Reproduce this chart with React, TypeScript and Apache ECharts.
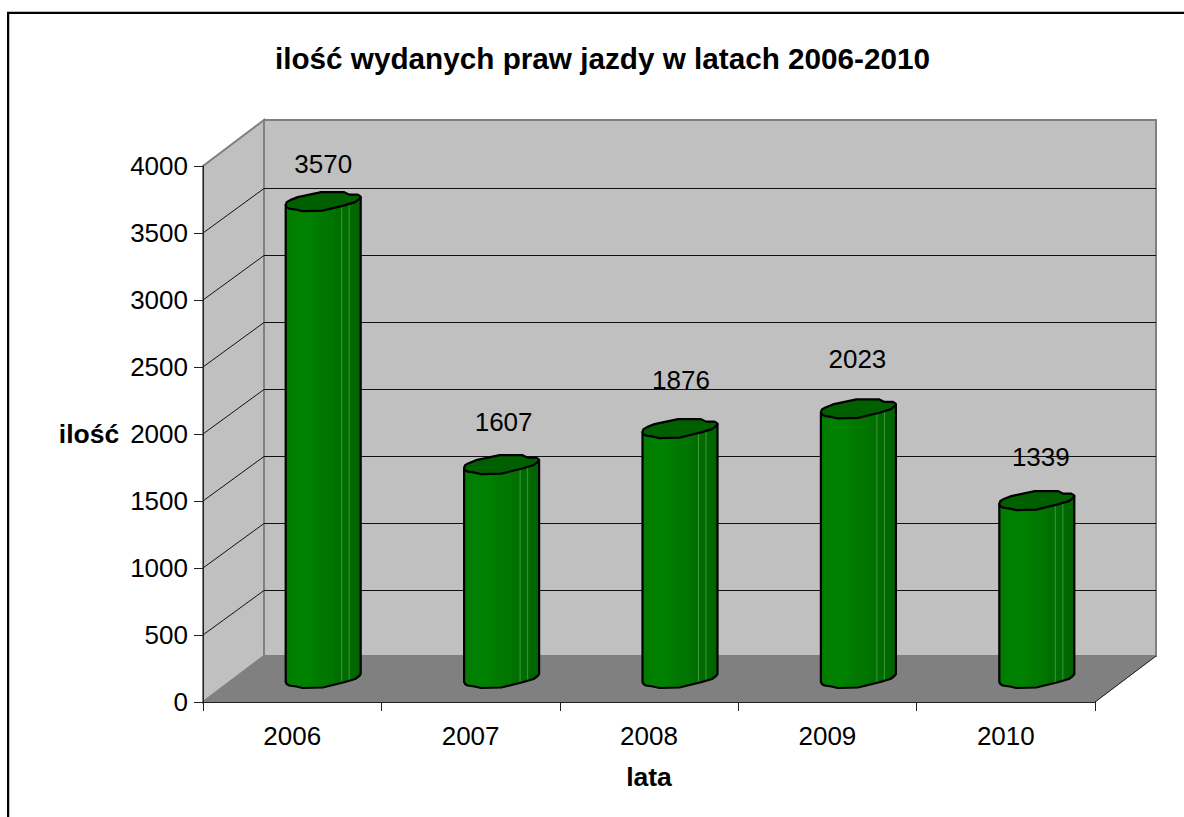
import React, { useEffect, useRef } from "react";
import * as echarts from "echarts";

const titleText = "ilość wydanych praw jazdy w latach 2006-2010";
const xAxisName = "lata";
const yAxisName = "ilość";
const years = ["2006", "2007", "2008", "2009", "2010"];
const counts = [3570, 1607, 1876, 2023, 1339];
const gridValues = [500, 1000, 1500, 2000, 2500, 3000, 3500];

const FONT = "Liberation Sans";
const DEPTH_X = 61;
const DEPTH_Y = 46;
const upperEdge = [[-36.5, 0.5], [-33, -1.5], [-25.5, -4.5], [-2, -9.5], [21, -9.5], [26, -7], [34.5, -7], [37, -5.5]];
const lowerEdge = [[36, -2.5], [32, 0.5], [21, 3.8], [-0.5, 9], [-20.5, 9.5], [-27, 8], [-34, 7], [-36.5, 5.5]];
const leftTip = [-37.5, 3.5];
const rightTip = [37.5, -4.5];
const labelShift = [[0, -37.5], [2, -42.5], [1, -48.5], [-1, -49.5], [4, -43.5]];

const shift = (pts: number[][], x: number, y: number) => pts.map((p) => [p[0] + x, p[1] + y]);

export default function App() {
  const ref = useRef<HTMLDivElement>(null);
  useEffect(() => {
    const chart = echarts.init(ref.current!, undefined, { renderer: "svg" });
    const bodyFill = new echarts.graphic.LinearGradient(0, 0, 1, 0, [
      { offset: 0, color: "#007a00" },
      { offset: 0.14, color: "#008000" },
      { offset: 0.36, color: "#008000" },
      { offset: 0.4, color: "#007a00" },
      { offset: 0.62, color: "#007500" },
      { offset: 0.66, color: "#007000" },
      { offset: 0.8, color: "#006c00" },
      { offset: 0.9, color: "#006800" },
      { offset: 1, color: "#006200" },
    ]);
    const wallsRender = (params: any) => {
      const c = params.coordSys;
      const l = c.x, r = c.x + c.width, t = c.y, b = c.y + c.height;
      const edge = { stroke: "#808080", lineWidth: 2, fill: "#c0c0c0" };
      return {
        type: "group",
        children: [
          { type: "polygon", shape: { points: [[l, b], [l + DEPTH_X, b - DEPTH_Y], [l + DEPTH_X, t - DEPTH_Y], [l, t]] }, style: edge },
          { type: "polygon", shape: { points: [[l + DEPTH_X, b - DEPTH_Y], [r + DEPTH_X, b - DEPTH_Y], [r + DEPTH_X, t - DEPTH_Y], [l + DEPTH_X, t - DEPTH_Y]] }, style: edge },
          { type: "polygon", shape: { points: [[l, b], [l + DEPTH_X, b - DEPTH_Y], [r + DEPTH_X, b - DEPTH_Y], [r, b]] }, style: { fill: "#808080", stroke: "#808080", lineWidth: 1 } },
          { type: "line", shape: { x1: r, y1: b, x2: r + DEPTH_X, y2: b - DEPTH_Y }, style: { stroke: "#222222", lineWidth: 1 } },
        ],
      };
    };
    const gridRender = (params: any, api: any) => {
      const c = params.coordSys;
      const y = api.coord([0, api.value(1)])[1];
      const backY = y - DEPTH_Y + 1.5;
      return {
        type: "polyline",
        shape: { points: [[c.x, y], [c.x + DEPTH_X, backY], [c.x + c.width + DEPTH_X, backY]] },
        style: { stroke: "#111111", lineWidth: 1, fill: "none" },
      };
    };
    const barRender = (params: any, api: any) => {
      const i = api.value(0);
      const base = api.coord([i, 0]);
      const top = api.coord([i, api.value(1)]);
      const cx = base[0] + DEPTH_X / 2 + 0.5;
      const y0 = base[1] - DEPTH_Y / 2 - 0.5;
      const y1 = top[1] - DEPTH_Y / 2 + 1;
      const line = { stroke: "#000000", lineWidth: 2.2, lineJoin: "round" };
      const body = [
        [leftTip[0] + cx, leftTip[1] + y1],
        [leftTip[0] + cx, leftTip[1] + y0],
        ...shift([...lowerEdge].reverse(), cx, y0),
        [rightTip[0] + cx, rightTip[1] + y0],
        [rightTip[0] + cx, rightTip[1] + y1],
      ];
      const cap = [
        [leftTip[0] + cx, leftTip[1] + y1],
        ...shift(upperEdge, cx, y1),
        [rightTip[0] + cx, rightTip[1] + y1],
        ...shift(lowerEdge, cx, y1),
      ];
      const glow = { stroke: "rgba(150,210,150,0.4)", lineWidth: 1 };
      return {
        type: "group",
        children: [
          { type: "polygon", shape: { points: body }, style: { fill: bodyFill, ...line } },
          { type: "line", shape: { x1: cx + 18.5, y1: y1 + 4, x2: cx + 18.5, y2: y0 + 3 }, style: glow },
          { type: "line", shape: { x1: cx + 26, y1: y1 + 1, x2: cx + 26, y2: y0 + 1 }, style: glow },
          { type: "polygon", shape: { points: cap }, style: { fill: "#006000", ...line } },
          {
            type: "text",
            x: cx + labelShift[i][0],
            y: y1 + labelShift[i][1],
            style: { text: String(api.value(1)), fill: "#000000", font: `26px "${FONT}"`, align: "center", verticalAlign: "middle" },
          },
        ],
      };
    };
    const axisText = { fontFamily: FONT, fontSize: 26, color: "#000000" };
    const nameText = { fontFamily: FONT, fontSize: 26.5, fontWeight: "bold" as const, color: "#000000" };
    const axisLine = { show: true, onZero: false, lineStyle: { color: "#222222", width: 1 } };
    const axisTick = { show: true, length: 9, lineStyle: { color: "#222222", width: 1 } };
    chart.setOption({
      animation: false,
      backgroundColor: "#ffffff",
      title: {
        text: titleText,
        left: 597.5,
        top: 38,
        textAlign: "center",
        textStyle: { fontFamily: FONT, fontSize: 29.7, fontWeight: "bold", color: "#000000" },
      },
      grid: { left: 203, top: 166, width: 892, height: 536 },
      xAxis: {
        type: "category",
        data: years,
        name: xAxisName,
        nameLocation: "middle",
        nameGap: 75,
        nameTextStyle: { ...nameText, verticalAlign: "middle" },
        z: 5,
        axisLine,
        axisTick,
        axisLabel: { ...axisText, margin: 21 },
        splitLine: { show: false },
      },
      yAxis: {
        type: "value",
        min: 0,
        max: 4000,
        interval: 500,
        name: yAxisName,
        nameLocation: "middle",
        nameGap: 114,
        nameRotate: 0,
        nameTextStyle: { ...nameText, align: "center", verticalAlign: "middle" },
        z: 5,
        axisLine,
        axisTick,
        axisLabel: { ...axisText, margin: 15, formatter: (v: number) => String(v) },
        splitLine: { show: false },
      },
      series: [
        { type: "custom", z: 1, silent: true, clip: false, renderItem: wallsRender, data: [[0, 0]] },
        { type: "custom", z: 2, silent: true, clip: false, renderItem: gridRender, data: gridValues.map((v) => [0, v]) },
        { type: "custom", z: 3, silent: true, clip: false, renderItem: barRender, data: counts.map((v, i) => [i, v]) },
      ],
      graphic: [
        { type: "rect", z: 10, shape: { x: 7, y: 11, width: 1177, height: 1 }, style: { fill: "#c0c0c0" } },
        { type: "rect", z: 11, shape: { x: 7, y: 12, width: 1177, height: 2 }, style: { fill: "#000000" } },
        { type: "rect", z: 10, shape: { x: 9, y: 14, width: 1, height: 803 }, style: { fill: "#c0c0c0" } },
        { type: "rect", z: 11, shape: { x: 7, y: 12, width: 2, height: 805 }, style: { fill: "#000000" } },
      ],
    });
    return () => chart.dispose();
  }, []);
  return <div ref={ref} style={{ position: "absolute", left: 0, top: 0, width: 1184, height: 817 }} />;
}
